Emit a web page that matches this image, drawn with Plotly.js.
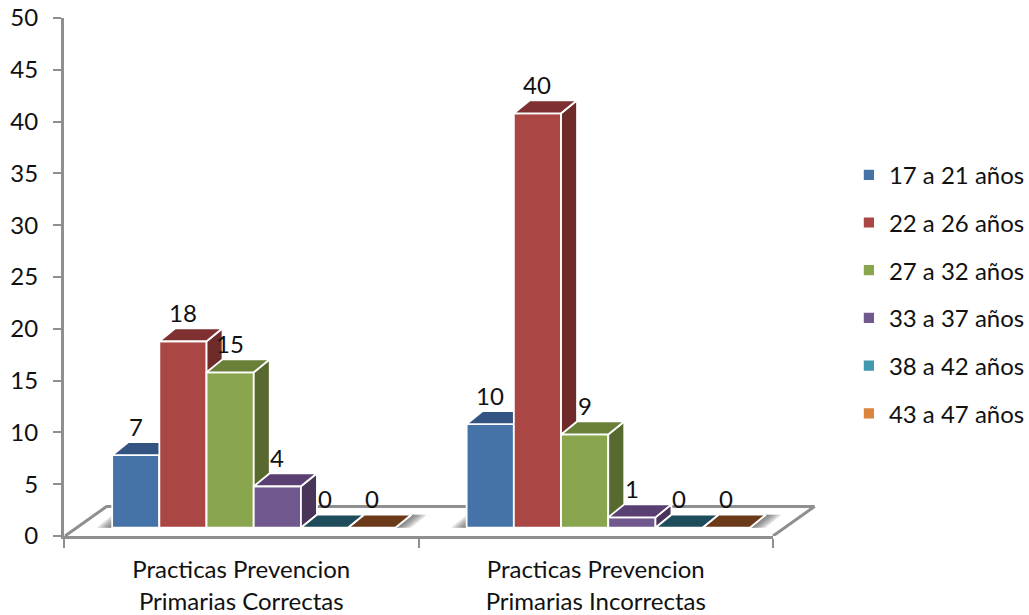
<!DOCTYPE html>
<html>
<head>
<meta charset="utf-8">
<script src="https://cdn.plot.ly/plotly-3.0.1.min.js"></script>
<style>html,body{margin:0;padding:0;background:#fff} text{font-variant-ligatures:none}</style>
</head>
<body>
<div id="chart" style="width:1029px;height:615px"></div>
<script>
// Values per age band, one entry per practice category
const categoriesLine1 = ["Practicas Prevencion", "Practicas Prevencion"];
const categoriesLine2 = ["Primarias Correctas", "Primarias Incorrectas"];
const seriesNames = ["17 a 21 años", "22 a 26 años", "27 a 32 años", "33 a 37 años", "38 a 42 años", "43 a 47 años"];
const band17a21 = [7, 10];
const band22a26 = [18, 40];
const band27a32 = [15, 9];
const band33a37 = [4, 1];
const band38a42 = [0, 0];
const band43a47 = [0, 0];
const seriesValues = [band17a21, band22a26, band27a32, band33a37, band38a42, band43a47];

const frontColors = ["#4572A7", "#AA4643", "#89A54E", "#71588F", "#4198AF", "#DB843D"];
const topColors = ["#335482", "#7E3130", "#6A8039", "#5A4072", "#1E4C5A", "#6B3A18"];
const sideColors = ["#2F4D75", "#6E2B2A", "#58692F", "#493559", "#1E4C5A", "#6B3A18"];

// Pseudo-3D geometry in axis units
const PLOT_W = 354.5, PLOT_H = 10.36;          // pixels per axis unit
const BAR_W = 47.2 / PLOT_W;
const GROUP_SHIFT = 12.5 / PLOT_W;
const BASE = 0.8;                               // bars stand on the floor, above y = 0
const DEPTH_X = 16 / PLOT_W, DEPTH_Y = 13 / PLOT_H;
const FLOOR_X = 41.5 / PLOT_W, FLOOR_Y = 29.5 / PLOT_H;
const GRAY = "#8F8F8F";
const FONT = "Lato, 'Open Sans', sans-serif";
const FONT_SIZE = 24;
const TEXT_COLOR = "#111111";

// The category axis stops at the last tick; a wider axis leaves room for the floor's depth
const WIDE_PX = 765;
const AXIS_DOMAIN = [0, (2 * PLOT_W) / WIDE_PX];
const WIDE_RANGE = [0, WIDE_PX / PLOT_W];

const categoryCenters = categoriesLine1.map((_, c) => c + 0.5 + GROUP_SHIFT);
const barCenter = (c, s) => categoryCenters[c] + (s - 2.5) * BAR_W;

const traces = [];

// Anchor trace for the category axis
traces.push({
  type: "scatter", mode: "markers", xaxis: "x", yaxis: "y",
  x: [0, 2], y: [0, 0], marker: {opacity: 0}, hoverinfo: "skip", showlegend: false
});

// Floor outline
traces.push({
  type: "scatter", mode: "lines", xaxis: "x2", yaxis: "y",
  x: [0.003, FLOOR_X + 0.003, 2 + FLOOR_X, 2],
  y: [0, FLOOR_Y, FLOOR_Y, 0],
  line: {color: GRAY, width: 3}, hoverinfo: "skip", showlegend: false
});

// Soft shadow under each group of bars, built from widening translucent layers
categoriesLine1.forEach((_, c) => {
  const left = barCenter(c, 0) - BAR_W / 2, right = barCenter(c, 5) + BAR_W / 2;
  for (let k = 6; k >= 0; k--) {
    const spread = k * 2.6 / PLOT_W;
    traces.push({
      type: "scatter", mode: "lines", xaxis: "x2", yaxis: "y",
      x: [left - spread, left + DEPTH_X - spread, right + DEPTH_X + spread, right + spread, left - spread],
      y: [BASE, BASE + DEPTH_Y, BASE + DEPTH_Y, BASE, BASE],
      fill: "toself", fillcolor: "rgba(70,70,70,0.16)", line: {width: 0},
      hoverinfo: "skip", showlegend: false
    });
  }
});

// One overlaid subplot per series so that each series paints over the one on its left
seriesNames.forEach((name, s) => {
  const xa = "x" + (s + 5), ya = "y" + (s + 5);
  const values = seriesValues[s];
  const xs = values.map((_, c) => barCenter(c, s));
  const tops = values.map(v => BASE + v);

  traces.push({
    type: "bar", name, xaxis: xa, yaxis: ya, x: xs, y: values,
    base: values.map(() => BASE), width: BAR_W,
    marker: {color: frontColors[s], line: {color: "#FFFFFF", width: 1.8}},
    legendgroup: name
  });

  const sideX = [], sideY = [], topX = [], topY = [];
  xs.forEach((x, c) => {
    const l = x - BAR_W / 2, r = x + BAR_W / 2, t = tops[c];
    sideX.push(r, r + DEPTH_X, r + DEPTH_X, r, r, null);
    sideY.push(t, t + DEPTH_Y, BASE + DEPTH_Y, BASE, t, null);
    topX.push(l, l + DEPTH_X, r + DEPTH_X, r, l, null);
    topY.push(t, t + DEPTH_Y, t + DEPTH_Y, t, t, null);
  });
  [[sideX, sideY, sideColors[s]], [topX, topY, topColors[s]]].forEach(([fx, fy, col]) => {
    traces.push({
      type: "scatter", mode: "lines", xaxis: xa, yaxis: ya,
      x: fx, y: fy, fill: "toself", fillcolor: col,
      line: {color: "#FFFFFF", width: 1.8}, hoverinfo: "skip",
      showlegend: false, legendgroup: name
    });
  });
});

// Value labels float above the front top edge of every bar
const annotations = [];
seriesNames.forEach((_, s) => {
  seriesValues[s].forEach((v, c) => {
    annotations.push({
      xref: "x", yref: "y", x: barCenter(c, s), y: BASE + v, yshift: 29,
      text: String(v), showarrow: false, xanchor: "center", yanchor: "middle",
      font: {family: FONT, size: FONT_SIZE, color: TEXT_COLOR}
    });
  });
});

const layout = {
  width: 1029, height: 615,
  margin: {l: 64, r: 1029 - 64 - WIDE_PX, t: 18, b: 79, pad: 0, autoexpand: false},
  paper_bgcolor: "#FFFFFF", plot_bgcolor: "rgba(0,0,0,0)",
  showlegend: true,
  legend: {
    x: 1.026, xanchor: "left", y: 0.74, yanchor: "top",
    font: {family: FONT, size: FONT_SIZE, color: TEXT_COLOR},
    tracegroupgap: 13.5, bgcolor: "rgba(0,0,0,0)"
  },
  annotations,
  xaxis: {
    domain: AXIS_DOMAIN, anchor: "y", range: [0, 2], tickmode: "array", tickvals: [0, 1, 2], ticktext: ["", "", ""],
    ticks: "outside", ticklen: 9, tickwidth: 2, tickcolor: GRAY,
    showline: true, linecolor: GRAY, linewidth: 3, showgrid: false, zeroline: false
  },
  xaxis2: {domain: [0, 1], anchor: "y", range: WIDE_RANGE, visible: false},
  yaxis: {
    range: [0, 50], tickmode: "array", anchor: "x",
    tickvals: [0, 5, 10, 15, 20, 25, 30, 35, 40, 45, 50],
    ticks: "outside", ticklen: 8, tickwidth: 2, tickcolor: GRAY, ticklabelstandoff: 10,
    tickfont: {family: FONT, size: FONT_SIZE, color: TEXT_COLOR},
    showline: true, linecolor: GRAY, linewidth: 3, showgrid: false, zeroline: false
  }
};

// The two lines of each category label sit on separate axes for their wider line spacing
[[3, categoriesLine1, 17], [4, categoriesLine2, 49]].forEach(([n, labels, standoff]) => {
  layout["xaxis" + n] = {
    overlaying: "x", anchor: "y" + n, range: [0, 2], tickmode: "array",
    tickvals: [0.5, 1.5], ticktext: labels, ticks: "", showline: false, showgrid: false, zeroline: false,
    ticklabelstandoff: standoff, tickangle: 0,
    tickfont: {family: FONT, size: FONT_SIZE, color: TEXT_COLOR}
  };
  layout["yaxis" + n] = {overlaying: "y", range: [0, 50], visible: false};
  traces.push({
    type: "scatter", mode: "markers", xaxis: "x" + n, yaxis: "y" + n,
    x: [0.5, 1.5], y: [0, 0], marker: {opacity: 0}, hoverinfo: "skip", showlegend: false
  });
});

seriesNames.forEach((_, s) => {
  layout["xaxis" + (s + 5)] = {overlaying: "x2", anchor: "y" + (s + 5), range: WIDE_RANGE, visible: false};
  layout["yaxis" + (s + 5)] = {overlaying: "y", anchor: "x" + (s + 5), range: [0, 50], visible: false};
});

Plotly.newPlot("chart", traces, layout, {displayModeBar: false, responsive: false});
</script>
</body>
</html>
